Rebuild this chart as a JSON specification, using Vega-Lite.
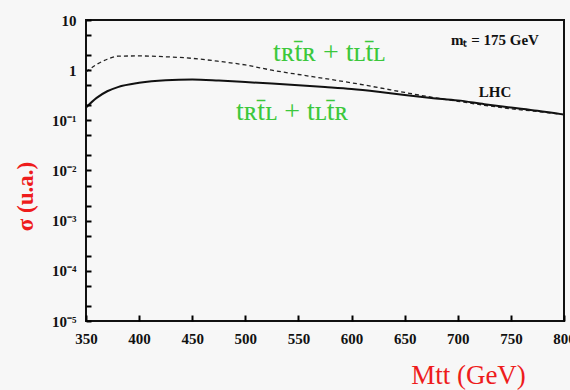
{
  "$schema": "https://vega.github.io/schema/vega-lite/v6.json",
  "width": 478,
  "height": 301,
  "autosize": {"type": "none"},
  "padding": {"left": 86, "top": 20, "right": 6, "bottom": 69},
  "background": "#f7f7f7",
  "config": {
    "view": {"stroke": "#111", "strokeWidth": 2},
    "axis": {"domain": false, "grid": false, "zindex": 3, "labelFont": "Liberation Serif", "labelFontWeight": "bold", "labelFontSize": 15, "labelColor": "#111", "labelOverlap": false, "labelFlush": false}
  },
  "datasets": {
    "curves": [
      {"m": 350, "s": 0.92, "series": "RR"},
      {"m": 360, "s": 1.3, "series": "RR"},
      {"m": 370, "s": 1.65, "series": "RR"},
      {"m": 380, "s": 1.9, "series": "RR"},
      {"m": 400, "s": 1.92, "series": "RR"},
      {"m": 425, "s": 1.85, "series": "RR"},
      {"m": 450, "s": 1.72, "series": "RR"},
      {"m": 475, "s": 1.5, "series": "RR"},
      {"m": 500, "s": 1.27, "series": "RR"},
      {"m": 525, "s": 1.0, "series": "RR"},
      {"m": 550, "s": 0.82, "series": "RR"},
      {"m": 575, "s": 0.68, "series": "RR"},
      {"m": 600, "s": 0.56, "series": "RR"},
      {"m": 625, "s": 0.45, "series": "RR"},
      {"m": 650, "s": 0.36, "series": "RR"},
      {"m": 675, "s": 0.29, "series": "RR"},
      {"m": 700, "s": 0.24, "series": "RR"},
      {"m": 725, "s": 0.2, "series": "RR"},
      {"m": 750, "s": 0.17, "series": "RR"},
      {"m": 775, "s": 0.15, "series": "RR"},
      {"m": 800, "s": 0.13, "series": "RR"},
      {"m": 350, "s": 0.18, "series": "RL"},
      {"m": 360, "s": 0.28, "series": "RL"},
      {"m": 370, "s": 0.38, "series": "RL"},
      {"m": 380, "s": 0.46, "series": "RL"},
      {"m": 400, "s": 0.56, "series": "RL"},
      {"m": 425, "s": 0.63, "series": "RL"},
      {"m": 450, "s": 0.65, "series": "RL"},
      {"m": 475, "s": 0.62, "series": "RL"},
      {"m": 500, "s": 0.58, "series": "RL"},
      {"m": 525, "s": 0.54, "series": "RL"},
      {"m": 550, "s": 0.5, "series": "RL"},
      {"m": 575, "s": 0.46, "series": "RL"},
      {"m": 600, "s": 0.42, "series": "RL"},
      {"m": 625, "s": 0.37, "series": "RL"},
      {"m": 650, "s": 0.32, "series": "RL"},
      {"m": 675, "s": 0.28, "series": "RL"},
      {"m": 700, "s": 0.25, "series": "RL"},
      {"m": 725, "s": 0.21, "series": "RL"},
      {"m": 750, "s": 0.18, "series": "RL"},
      {"m": 775, "s": 0.155, "series": "RL"},
      {"m": 800, "s": 0.13, "series": "RL"}
    ],
    "labels": [
      {"m": 579, "s": 2.2, "text": "tʀt̄ʀ + tʟt̄ʟ", "kind": "green"},
      {"m": 544, "s": 0.147, "text": "tʀt̄ʟ + tʟt̄ʀ", "kind": "green"},
      {"m": 735, "s": 3.98, "text": "mₜ = 175 GeV", "kind": "mt"},
      {"m": 735, "s": 0.36, "text": "LHC", "kind": "lhc"}
    ]
  },
  "encoding": {
    "x": {"field": "m", "type": "quantitative", "scale": {"domain": [350, 800], "nice": false, "zero": false},
      "axis": {"orient": "bottom", "values": [350, 400, 450, 500, 550, 600, 650, 700, 750, 800], "ticks": true, "tickSize": -6, "tickColor": "black", "tickWidth": 2, "tickOpacity": 1, "zindex": 3, "labelPadding": 16,
        "title": "Mtt (GeV)", "titleFont": "Liberation Serif", "titleFontSize": 27, "titleFontWeight": "normal", "titleColor": "#ee1c1c",
        "titleX": 382, "titleY": 54, "titleAlign": "center", "titleBaseline": "middle"}},
    "y": {"field": "s", "type": "quantitative", "scale": {"type": "log", "domain": [0.00001, 10], "nice": false},
      "axis": {"orient": "left",
        "values": [0.00001, 0.00002, 0.00005, 0.0001, 0.0002, 0.0005, 0.001, 0.002, 0.005, 0.01, 0.02, 0.05, 0.1, 0.2, 0.5, 1, 2, 5, 10],
        "labelExpr": "abs(log(datum.value)/LN10 - round(log(datum.value)/LN10)) > 0.01 ? '' : (round(log(datum.value)/LN10) == 1 ? '10' : round(log(datum.value)/LN10) == 0 ? '1' : '10⁻' + ['', '¹', '²', '³', '⁴', '⁵'][-round(log(datum.value)/LN10)])",
        "ticks": true, "tickColor": "black", "tickWidth": 2, "tickOpacity": 1, "zindex": 3,
        "tickSize": -5,
        "labelPadding": 15,
        "title": "σ (u.a.)", "titleFont": "Liberation Serif", "titleFontSize": 23, "titleFontWeight": "bold", "titleColor": "#ee1c1c",
        "titleX": -61, "titleY": 176, "titleAlign": "center", "titleBaseline": "middle", "titleAngle": -90}}
  },
  "layer": [
    {
      "data": {"name": "curves"},
      "transform": [{"filter": "datum.series == 'RR'"}],
      "mark": {"type": "line", "color": "#222", "strokeWidth": 1.3, "strokeDash": [4, 3], "interpolate": "monotone"}
    },
    {
      "data": {"name": "curves"},
      "transform": [{"filter": "datum.series == 'RL'"}],
      "mark": {"type": "line", "color": "#111", "strokeWidth": 2, "interpolate": "monotone"}
    },
    {
      "data": {"name": "labels"},
      "transform": [{"filter": "datum.kind == 'green'"}],
      "mark": {"type": "text", "font": "Liberation Serif", "fontSize": 28, "color": "#3cc83c", "align": "center", "baseline": "middle"},
      "encoding": {"text": {"field": "text"}}
    },
    {
      "data": {"name": "labels"},
      "transform": [{"filter": "datum.kind != 'green'"}],
      "mark": {"type": "text", "font": "Liberation Serif", "fontWeight": "bold", "fontSize": 15, "color": "#111", "align": "center", "baseline": "middle"},
      "encoding": {"text": {"field": "text"}}
    }
  ]
}
